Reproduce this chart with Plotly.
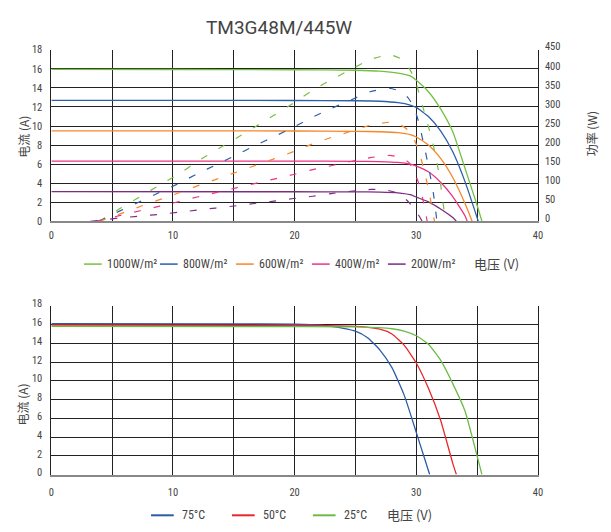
import plotly.graph_objects as go

W, H = 611, 532

# ---------------- data: top chart (irradiance) ----------------
irr_names = ["1000W/m²", "800W/m²", "600W/m²", "400W/m²", "200W/m²"]
irr_colors = ["#74c043", "#2d5fa8", "#f7862a", "#ec3484", "#7d2c83"]

# I-V curves (current, A)
iv_v_1000 = [0, 10, 20, 25, 27, 28.5, 29.5, 30, 31, 32, 33, 34, 35, 35.4]
iv_i_1000 = [15.95, 15.93, 15.9, 15.85, 15.75, 15.55, 15.25, 14.8, 13.6, 11.8, 9.4, 5.6, 1.7, 0]
iv_v_800 = [0, 20, 25, 27, 28.5, 29.5, 30, 31, 32, 33, 34, 35, 35.1]
iv_i_800 = [12.7, 12.68, 12.65, 12.6, 12.45, 12.2, 11.95, 11.0, 9.5, 7.3, 4.2, 0.4, 0]
iv_v_600 = [0, 20, 25, 27, 28.5, 29.5, 30, 31, 32, 33, 34, 34.6]
iv_i_600 = [9.5, 9.48, 9.45, 9.4, 9.3, 9.1, 8.85, 8.0, 6.6, 4.6, 1.9, 0]
iv_v_400 = [0, 20, 25, 27, 28.5, 29.5, 30, 31, 32, 33, 34, 34.2]
iv_i_400 = [6.33, 6.32, 6.3, 6.27, 6.18, 6.0, 5.8, 5.2, 4.1, 2.6, 0.6, 0]
iv_v_200 = [0, 20, 25, 27, 28.5, 29.5, 30, 31, 32, 33, 33.3]
iv_i_200 = [3.12, 3.11, 3.1, 3.08, 3.0, 2.8, 2.55, 2.05, 1.3, 0.4, 0]

# P-V curves (power, W)
pv_v_1000 = [3.9, 5.6, 7.3, 8.9, 10.5, 12.0, 13.6, 15.2, 16.7, 18.3, 19.9, 21.4, 23.0, 24.6, 26.2, 27.8, 28.8, 29.4, 29.9, 30.4, 30.9, 31.4, 31.9, 32.4]
pv_p_1000 = [0, 33, 65, 95, 125, 157, 188, 218, 247, 278, 310, 342, 371, 398, 424, 437, 425, 402, 372, 315, 260, 200, 120, 0]
pv_v_800 = [3.9, 5.6, 7.3, 8.9, 10.5, 12.0, 13.6, 15.2, 16.7, 18.3, 19.9, 21.4, 23.0, 24.6, 26.2, 27.8, 28.7, 29.3, 29.8, 30.2, 30.6, 31.0, 31.4, 31.7]
pv_p_800 = [0, 27, 52, 76, 100, 125, 149, 174, 198, 222, 247, 272, 296, 318, 340, 349, 341, 325, 300, 260, 205, 145, 75, 0]
pv_v_600 = [3.9, 5.6, 7.3, 8.9, 10.5, 12.0, 13.6, 15.2, 16.7, 18.3, 19.9, 21.4, 23.0, 24.6, 26.2, 27.8, 28.7, 29.3, 29.8, 30.2, 30.6, 31.0, 31.5]
pv_p_600 = [0, 19, 39, 57, 75, 93, 111, 129, 146, 164, 183, 202, 220, 236, 252, 260, 253, 240, 217, 185, 140, 85, 0]
pv_v_400 = [3.6, 5.6, 7.3, 8.9, 10.5, 12.0, 13.6, 15.2, 16.7, 18.3, 19.9, 21.4, 23.0, 24.6, 26.2, 27.8, 28.8, 29.4, 29.8, 30.2, 30.6, 30.9]
pv_p_400 = [0, 15, 28, 40, 52, 64, 76, 88, 99, 111, 123, 135, 146, 157, 167, 173, 167, 154, 133, 100, 50, 0]
pv_v_200 = [3.2, 5.6, 7.3, 9.0, 10.5, 12.1, 13.5, 15.2, 16.7, 18.3, 19.9, 21.5, 23.0, 24.6, 26.3, 27.4, 28.4, 29.2, 29.9, 30.5]
pv_p_200 = [0, 9, 14, 19, 24, 30, 35, 41, 47, 53, 60, 66, 73, 79, 84, 83, 75, 56, 31, 0]

iv_sets = [(iv_v_1000, iv_i_1000), (iv_v_800, iv_i_800), (iv_v_600, iv_i_600),
           (iv_v_400, iv_i_400), (iv_v_200, iv_i_200)]
pv_sets = [(pv_v_1000, pv_p_1000), (pv_v_800, pv_p_800), (pv_v_600, pv_p_600),
           (pv_v_400, pv_p_400), (pv_v_200, pv_p_200)]

# ---------------- data: bottom chart (temperature) ----------------
temp_names = ["75°C", "50°C", "25°C"]
temp_colors = ["#2c5ba8", "#e8282b", "#6dbb46"]
t_v_75 = [0, 15, 20, 22, 23, 24, 25, 26, 27, 28, 29, 30, 31.1]
t_i_75 = [16.1, 16.08, 16.03, 15.95, 15.8, 15.6, 15.3, 14.6, 13.3, 11.4, 8.5, 4.5, 0]
t_v_50 = [0, 20, 25, 27, 28, 29, 30, 31, 32, 33, 33.3]
t_i_50 = [15.95, 15.9, 15.8, 15.5, 15.0, 13.8, 11.9, 9.2, 5.8, 1.2, 0]
t_v_25 = [0, 20, 25, 28, 29, 30, 31, 32, 33, 34, 35, 35.4]
t_i_25 = [15.8, 15.78, 15.75, 15.55, 15.3, 14.8, 13.9, 12.2, 9.7, 6.8, 2.0, 0]
temp_sets = [(t_v_75, t_i_75), (t_v_50, t_i_50), (t_v_25, t_i_25)]

title_text = "TM3G48M/445W"
x_title = "电压 (V)"
y_title = "电流 (A)"
y2_title = "功率 (W)"

# ---------------- figure ----------------
fig = go.Figure()

for (v, i), c in zip(iv_sets, irr_colors):
    fig.add_trace(go.Scatter(x=v, y=i, mode="lines", line=dict(color=c, width=1.3, shape="spline", smoothing=0.5),
                             xaxis="x", yaxis="y", showlegend=False, hoverinfo="skip"))
for (v, p), c in zip(pv_sets, irr_colors):
    fig.add_trace(go.Scatter(x=v, y=p, mode="lines", line=dict(color=c, width=1.2, dash="7px,13px", shape="spline", smoothing=0.5),
                             xaxis="x", yaxis="y2", showlegend=False, hoverinfo="skip"))
for (v, i), c in zip(temp_sets, temp_colors):
    fig.add_trace(go.Scatter(x=v, y=i, mode="lines", line=dict(color=c, width=1.3, shape="spline", smoothing=0.5),
                             xaxis="x2", yaxis="y3", showlegend=False, hoverinfo="skip"))

def px_x(p):
    return p / W

def px_y(p):
    return 1 - p / H

tick_font = dict(family="Liberation Sans Narrow, Roboto Condensed, Roboto, sans-serif", size=10.5, color="#444")
grid_c = "#222"

xdom = [px_x(49), px_x(542)]
top_dom = [px_y(219), px_y(42)]
bot_dom = [px_y(480), px_y(306)]

def xaxis_common(anchor, standoff):
    return dict(domain=xdom, anchor=anchor, range=[0, 40], dtick=10, tick0=0,
                showgrid=True, gridcolor=grid_c, gridwidth=1,
                minor=dict(dtick=5, tick0=0, showgrid=True, gridcolor=grid_c, gridwidth=1),
                showline=True, linecolor="#888", linewidth=2, zeroline=False,
                ticks="", tickfont=tick_font, ticklabelstandoff=standoff, fixedrange=True)

def yaxis_common(domain, anchor, shift):
    return dict(domain=domain, anchor=anchor, range=[0, 18], dtick=2, tick0=0,
                showgrid=True, gridcolor=grid_c, gridwidth=1,
                showline=True, linecolor=grid_c, linewidth=1, mirror=True, zeroline=False,
                ticks="", tickfont=tick_font, ticklabelshift=shift, ticklabelstandoff=6, fixedrange=True)

fig.update_layout(
    width=W, height=H, margin=dict(l=0, r=0, t=0, b=0),
    plot_bgcolor="white", paper_bgcolor="white", showlegend=False,
    xaxis=xaxis_common("y", 3),
    yaxis=yaxis_common(top_dom, "x", 0),
    yaxis2=dict(overlaying="y", anchor="x", side="right", range=[0, 450], dtick=50, tick0=0,
                showgrid=False, zeroline=False, showline=False, ticks="", tickfont=tick_font,
                ticklabelshift=-3, ticklabelstandoff=6, fixedrange=True),
    xaxis2=xaxis_common("y3", 7),
    yaxis3=yaxis_common(bot_dom, "x2", -2),
)

ann = []
shapes = []
ann.append(dict(text=title_text, x=px_x(280), y=px_y(19), xref="paper", yref="paper", showarrow=False,
                xanchor="center", yanchor="middle",
                font=dict(family="Roboto, sans-serif", size=19, color="#444")))
axis_font = dict(family="Noto Sans CJK SC, sans-serif", size=12, color="#444")
ann.append(dict(text=y_title, x=px_x(20), y=px_y(132), xref="paper", yref="paper", showarrow=False,
                textangle=-90, xanchor="center", yanchor="middle", font=axis_font))
ann.append(dict(text=y2_title, x=px_x(596), y=px_y(129), xref="paper", yref="paper", showarrow=False,
                textangle=-90, xanchor="center", yanchor="middle", font=axis_font))
ann.append(dict(text=y_title, x=px_x(20), y=px_y(408), xref="paper", yref="paper", showarrow=False,
                textangle=-90, xanchor="center", yanchor="middle", font=axis_font))

leg_font = dict(family="Liberation Sans Narrow, Roboto Condensed, Roboto, sans-serif", size=12, color="#444")
# top legend
ly = 263
for k, (name, c) in enumerate(zip(irr_names, irr_colors)):
    x0 = 82 + 77 * k
    shapes.append(dict(type="line", xref="paper", yref="paper", x0=px_x(x0), x1=px_x(x0 + 18),
                       y0=px_y(ly), y1=px_y(ly), line=dict(color=c, width=1.5)))
    ann.append(dict(text=name, x=px_x(x0 + 21), y=px_y(ly), xref="paper", yref="paper", showarrow=False,
                    xanchor="left", yanchor="middle", font=leg_font))
ann.append(dict(text=x_title, x=px_x(475), y=px_y(ly - 1), xref="paper", yref="paper", showarrow=False,
                xanchor="left", yanchor="middle", font=dict(family="Noto Sans CJK SC, sans-serif", size=13, color="#444")))
# bottom legend
ly2 = 522
for k, (name, c) in enumerate(zip(temp_names, temp_colors)):
    x0 = 150 + 82 * k
    shapes.append(dict(type="line", xref="paper", yref="paper", x0=px_x(x0), x1=px_x(x0 + 23),
                       y0=px_y(ly2), y1=px_y(ly2), line=dict(color=c, width=2)))
    ann.append(dict(text=name, x=px_x(x0 + 29), y=px_y(ly2), xref="paper", yref="paper", showarrow=False,
                    xanchor="left", yanchor="middle", font=leg_font))
ann.append(dict(text=x_title, x=px_x(387), y=px_y(ly2 - 1), xref="paper", yref="paper", showarrow=False,
                xanchor="left", yanchor="middle", font=dict(family="Noto Sans CJK SC, sans-serif", size=13, color="#444")))

fig.update_layout(annotations=ann, shapes=shapes)

page_fix = (
    "document.documentElement.style.margin='0';"
    "document.documentElement.style.padding='0';"
    "document.documentElement.style.overflow='hidden';"
    "document.body.style.margin='0';"
    "document.body.style.padding='0';"
    "document.body.style.overflow='hidden';"
    "var d=document.getElementById('{plot_id}');"
    "d.style.position='fixed';d.style.top='0px';d.style.left='0px';"
)
fig.write_html("out.html", config={"displayModeBar": False}, post_script=page_fix)
